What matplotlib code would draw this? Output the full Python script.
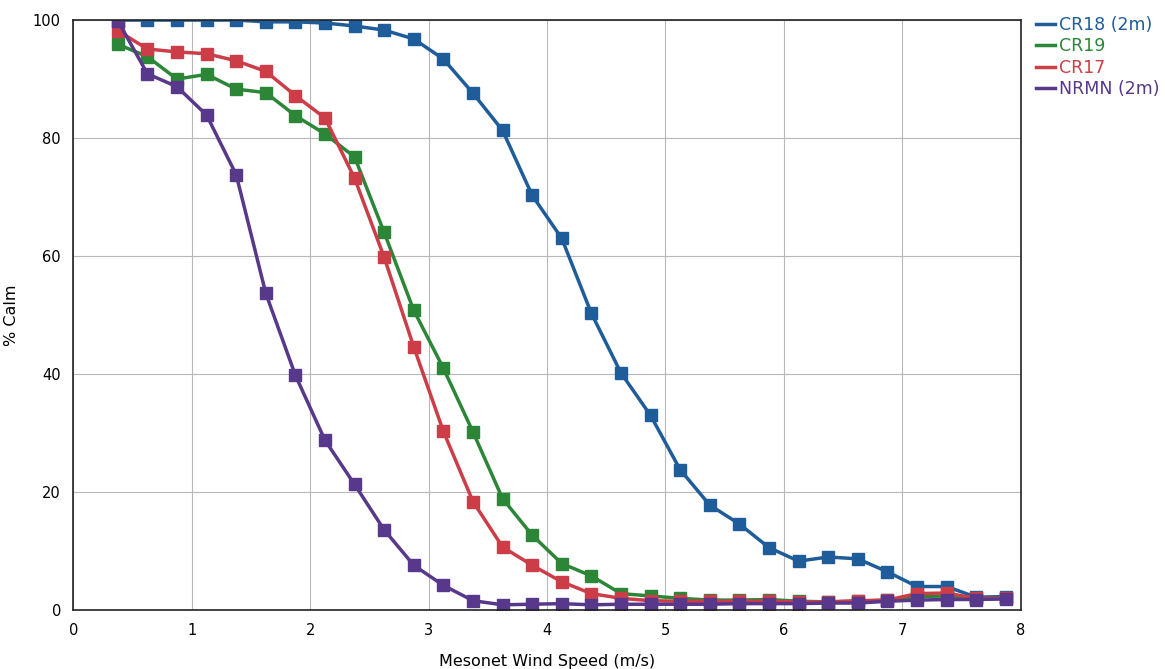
import numpy as np
import matplotlib
matplotlib.use("Agg")
import matplotlib.pyplot as plt

# wind speed bins (m/s)
speed = [0.375 + 0.25 * i for i in range(31)]

cr18 = [100, 100, 100, 100, 100, 99.7, 99.7, 99.5, 99.0, 98.3,
        96.8, 93.4, 87.6, 81.3, 70.3, 63.0, 50.3, 40.2, 33.0, 23.8,
        17.8, 14.6, 10.6, 8.3, 9.0, 8.7, 6.5, 4.0, 4.0, 2.2, 2.3]
cr19 = [95.9, 93.8, 90.0, 90.8, 88.3, 87.7, 83.8, 80.7, 76.8, 64.0,
        50.8, 41.0, 30.2, 18.9, 12.7, 7.9, 5.8, 2.8, 2.4, 2.0,
        1.7, 1.7, 1.8, 1.5, 1.4, 1.5, 1.7, 2.3, 2.4, 2.0, 2.0]
cr17 = [98.2, 95.1, 94.6, 94.3, 93.1, 91.3, 87.2, 83.4, 73.2, 59.8,
        44.6, 30.3, 18.4, 10.7, 7.6, 4.8, 2.8, 2.0, 1.6, 1.5,
        1.5, 1.5, 1.5, 1.4, 1.4, 1.6, 1.7, 2.8, 2.9, 2.0, 2.0]
nrmn = [99.9, 90.9, 88.7, 83.9, 73.8, 53.7, 39.8, 28.8, 21.3, 13.6,
        7.6, 4.2, 1.6, 0.9, 1.0, 1.1, 0.9, 1.0, 1.0, 1.0,
        1.0, 1.1, 1.1, 1.1, 1.2, 1.2, 1.5, 1.7, 1.8, 1.8, 1.9]

series = [
    ("CR18 (2m)", cr18, "#1f5d9a"),
    ("CR19", cr19, "#2c8638"),
    ("CR17", cr17, "#cc3d47"),
    ("NRMN (2m)", nrmn, "#57388a"),
]

plt.rcParams['font.family'] = ['DejaVu Sans']

fig = plt.figure(figsize=(11.65, 6.69), dpi=100)
ax = fig.add_axes([0.063, 0.088, 0.813, 0.882])

for name, vals, col in series:
    ax.plot(speed, vals, color=col, lw=2.5, marker='s', markersize=9,
            markeredgecolor=col, label=name)

ax.set_xlim(0, 8)
ax.set_ylim(0, 100)
ax.set_xticks(range(0, 9))
ax.set_yticks(range(0, 101, 20))
ax.grid(True, color='#b8b8b8', lw=0.8)
ax.set_axisbelow(True)
ax.tick_params(length=0, labelsize=10.5, pad=9)
for s in ax.spines.values():
    s.set_color('#222222')
    s.set_linewidth(1.2)

ax.set_xlabel("Mesonet Wind Speed (m/s)", fontsize=11.5, labelpad=12)
ax.set_ylabel("% Calm", fontsize=11.5, labelpad=10)

leg = ax.legend(loc='upper left', bbox_to_anchor=(1.005, 1.025), frameon=False,
                fontsize=12.5, handlelength=1.1, handletextpad=0.25,
                labelspacing=0.2, borderaxespad=0.2)
for line in leg.get_lines():
    line.set_marker('')
for txt, (_, _, col) in zip(leg.get_texts(), series):
    txt.set_color(col)

fig.savefig("out.png", dpi=100)
